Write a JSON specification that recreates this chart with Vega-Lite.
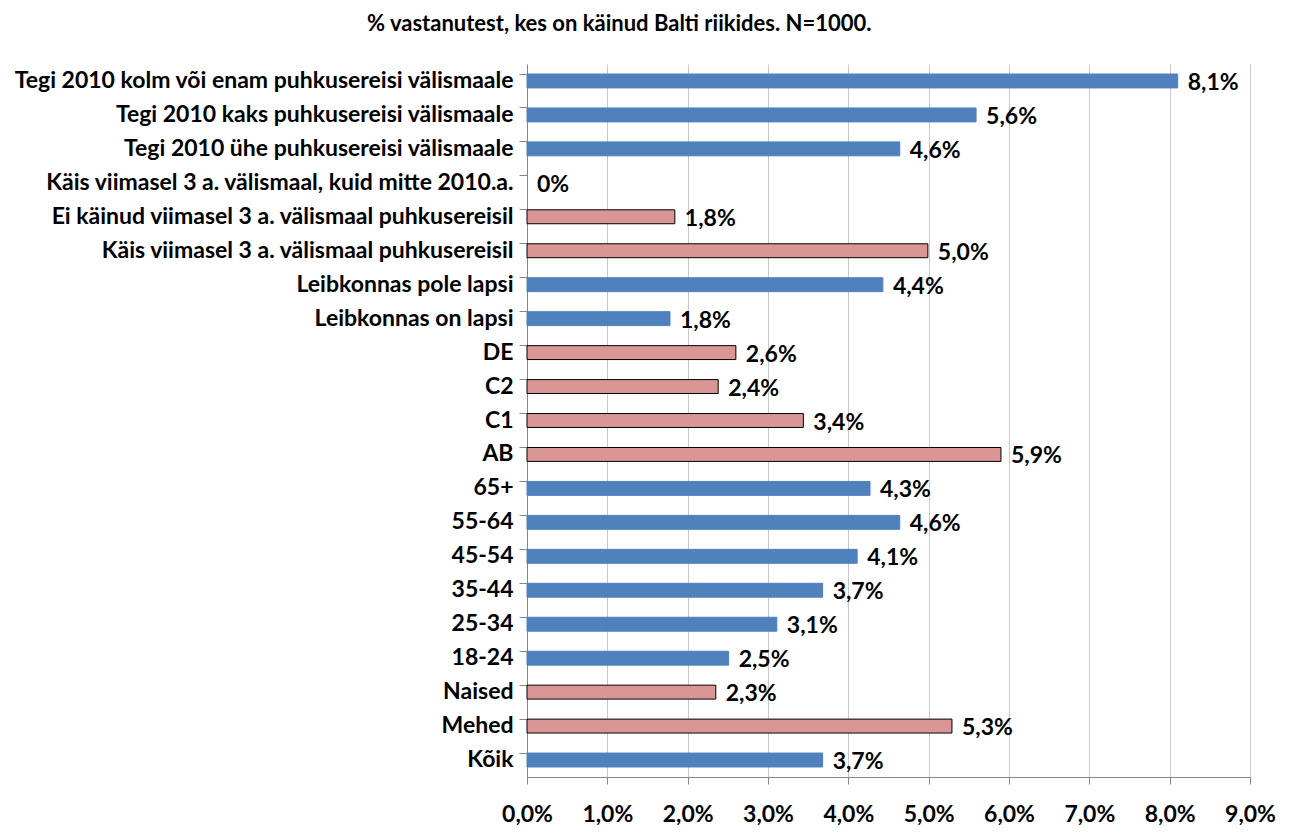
{
  "$schema": "https://vega.github.io/schema/vega-lite/v6.json",
  "autosize": "none",
  "width": 723,
  "height": 713,
  "padding": {"left": 527, "top": 64, "right": 40, "bottom": 61},
  "background": "white",
  "title": {
    "text": "% vastanutest, kes on käinud Balti riikides. N=1000.",
    "font": "Lato",
    "fontWeight": "bold",
    "fontSize": 22,
    "color": "black",
    "anchor": "middle",
    "frame": "bounds",
    "offset": 28,
    "dx": -25
  },
  "data": {
    "values": [
      {"cat": "Tegi 2010 kolm või enam puhkusereisi välismaale", "value": 8.1, "label": "8,1%", "grp": "blue"},
      {"cat": "Tegi 2010 kaks puhkusereisi välismaale", "value": 5.59, "label": "5,6%", "grp": "blue"},
      {"cat": "Tegi 2010 ühe puhkusereisi välismaale", "value": 4.64, "label": "4,6%", "grp": "blue"},
      {"cat": "Käis viimasel 3 a. välismaal, kuid mitte 2010.a.", "value": 0, "label": "0%", "grp": "none"},
      {"cat": "Ei käinud viimasel 3 a. välismaal puhkusereisil", "value": 1.84, "label": "1,8%", "grp": "pink"},
      {"cat": "Käis viimasel 3 a. välismaal puhkusereisil", "value": 4.99, "label": "5,0%", "grp": "pink"},
      {"cat": "Leibkonnas pole lapsi", "value": 4.43, "label": "4,4%", "grp": "blue"},
      {"cat": "Leibkonnas on lapsi", "value": 1.78, "label": "1,8%", "grp": "blue"},
      {"cat": "DE", "value": 2.6, "label": "2,6%", "grp": "pink"},
      {"cat": "C2", "value": 2.38, "label": "2,4%", "grp": "pink"},
      {"cat": "C1", "value": 3.44, "label": "3,4%", "grp": "pink"},
      {"cat": "AB", "value": 5.9, "label": "5,9%", "grp": "pink"},
      {"cat": "65+", "value": 4.27, "label": "4,3%", "grp": "blue"},
      {"cat": "55-64", "value": 4.64, "label": "4,6%", "grp": "blue"},
      {"cat": "45-54", "value": 4.11, "label": "4,1%", "grp": "blue"},
      {"cat": "35-44", "value": 3.68, "label": "3,7%", "grp": "blue"},
      {"cat": "25-34", "value": 3.11, "label": "3,1%", "grp": "blue"},
      {"cat": "18-24", "value": 2.51, "label": "2,5%", "grp": "blue"},
      {"cat": "Naised", "value": 2.35, "label": "2,3%", "grp": "pink"},
      {"cat": "Mehed", "value": 5.29, "label": "5,3%", "grp": "pink"},
      {"cat": "Kõik", "value": 3.68, "label": "3,7%", "grp": "blue"}
    ]
  },
  "encoding": {
    "y": {
      "field": "cat",
      "type": "nominal",
      "sort": null,
      "title": null,
      "scale": {"paddingInner": 0.59, "paddingOuter": 0.295},
      "axis": {
        "bandPosition": 0,
        "labelFont": "Lato",
        "labelFontWeight": "bold",
        "labelFontSize": 23,
        "labelColor": "black",
        "labelPadding": 6,
        "labelLimit": 600,
        "tickSize": 8,
        "tickColor": "#868686",
        "domainColor": "#868686",
        "grid": false
      }
    },
    "x": {
      "field": "value",
      "type": "quantitative",
      "title": null,
      "scale": {"domain": [0, 9], "nice": false},
      "axis": {
        "values": [0, 1, 2, 3, 4, 5, 6, 7, 8, 9],
        "labelExpr": "replace(format(datum.value, '.1f'), '.', ',') + '%'",
        "labelFont": "Lato",
        "labelFontWeight": "bold",
        "labelFontSize": 23,
        "labelColor": "black",
        "labelPadding": 19,
        "labelFlush": false,
        "tickSize": 7,
        "tickColor": "#868686",
        "domainColor": "#868686",
        "grid": true,
        "gridColor": "#C8C8C8"
      }
    }
  },
  "layer": [
    {
      "mark": {"type": "bar", "strokeWidth": 1},
      "encoding": {
        "color": {
          "field": "grp",
          "type": "nominal",
          "scale": {"domain": ["blue", "pink", "none"], "range": ["#4F81BD", "#D99694", "#FFFFFF"]},
          "legend": null
        },
        "stroke": {
          "field": "grp",
          "type": "nominal",
          "scale": {"domain": ["blue", "pink", "none"], "range": ["#4F81BD", "#000000", "transparent"]},
          "legend": null
        }
      }
    },
    {
      "mark": {"type": "text", "align": "left", "baseline": "middle", "dx": 10, "dy": 2, "font": "Lato", "fontWeight": "bold", "fontSize": 23, "color": "black"},
      "encoding": {"text": {"field": "label"}}
    }
  ],
  "config": {"view": {"stroke": null}}
}
